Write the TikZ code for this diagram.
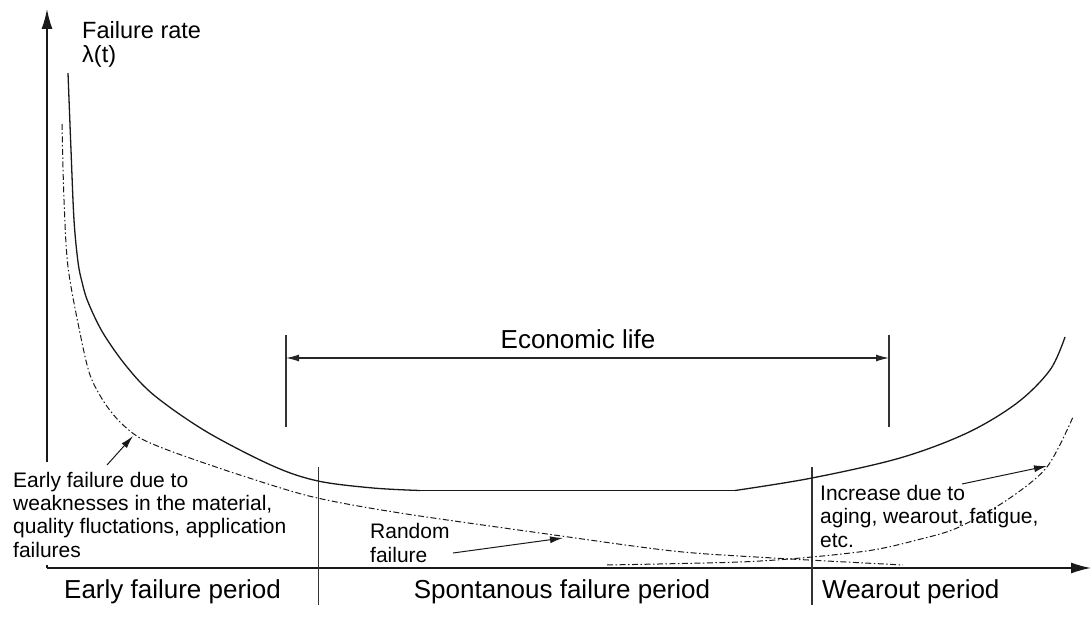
\documentclass[tikz,border=0pt]{standalone}
\usepackage{fontspec}
\setmainfont{Liberation Sans}
\usetikzlibrary{arrows.meta}
\begin{document}
\begin{tikzpicture}[x=1bp,y=-1bp,
  curve/.style={line width=1.3bp, black!90},
  dashdot/.style={line width=1bp, black!90, dash pattern=on 6bp off 2.5bp on 1.5bp off 2.5bp},
  axis/.style={line width=1.4bp, black!90, -{Latex[length=20bp,width=11bp]}},
  tickline/.style={line width=1.2bp, black!80},
  dimline/.style={line width=1.1bp, black!85, {Latex[length=13bp,width=7bp]}-{Latex[length=13bp,width=7bp]}},
  ptr/.style={line width=1bp, black!90, -{Latex[length=13bp,width=7bp]}},
  smalltxt/.style={font=\fontsize{21bp}{23.3bp}\selectfont, align=left, anchor=base west, inner sep=0pt},
  bigtxt/.style={font=\fontsize{26bp}{30bp}\selectfont, anchor=base west, inner sep=0pt},
  ytxt/.style={font=\fontsize{23.5bp}{24.5bp}\selectfont, align=left, anchor=base west, inner sep=0pt}
]
\useasboundingbox (0,0) rectangle (1092,621);
% axes
\coordinate (ybot) at (47,462);
\coordinate (ytop) at (47,9);
\coordinate (orig) at (47,568);
\coordinate (corner) at (47,565);
\coordinate (xend) at (1091,568);
\draw[axis] (ybot) -- (ytop);
\draw[line width=1.4bp, black!90] (corner) -- (orig);
\draw[axis] (orig) -- (xend);
% period dividers
\coordinate (d1t) at (318.5,467); \coordinate (d1b) at (318.5,605);
\coordinate (d2t) at (812,467); \coordinate (d2b) at (812,605);
\draw[tickline] (d1t) -- (d1b);
\draw[tickline] (d2t) -- (d2b);
% economic life
\coordinate (e1t) at (286,335); \coordinate (e1b) at (286,427);
\coordinate (e2t) at (889,335); \coordinate (e2b) at (889,427);
\coordinate (e1m) at (286,358); \coordinate (e2m) at (889,358);
\draw[tickline] (e1t) -- (e1b);
\draw[tickline] (e2t) -- (e2b);
\draw[dimline] (e1m) -- (e2m);
\node[bigtxt, anchor=base] (econ) at (578,348) {Economic life};
% bathtub curve
\draw[curve] plot[smooth, tension=0.55] coordinates {(68,73) (71,150) (74,220) (78,262) (82,282) (88,302) (103,333) (127,367) (155,396) (207,432) (273,466) (318,481) (373,488) (420,490.5)};
\coordinate (f1) at (420,490.5); \coordinate (f2) at (735,490.5);
\draw[curve] (f1) -- (f2);
\draw[curve] plot[smooth, tension=0.55] coordinates {(735,490.5) (812,478) (900,458) (967,433) (1017,403) (1050,370) (1065,337)};
% early failure curve
\draw[dashdot] plot[smooth, tension=0.5] coordinates {(62,124) (64,200) (68,267) (80,333) (90,375) (104,402) (120,422) (140,438) (173,452) (240,475) (313,497) (400,513) (540,533) (673,551) (773,558) (903,565)};
% wearout curve
\draw[dashdot] plot[smooth, tension=0.5] coordinates {(607,565) (740,562) (812,557) (873,550) (917,540) (957,528) (1007,500) (1047,467) (1073,417)};
% labels
\node[ytxt] (ylab) at (82,63) {Failure rate\\λ(t)};
\node[smalltxt] (early) at (13,557) {Early failure due to\\weaknesses in the material,\\quality fluctations, application\\failures};
\node[smalltxt] (random) at (370,562) {Random\\failure};
\node[smalltxt] (incr) at (820,547) {Increase due to\\aging, wearout, fatigue,\\etc.};
\coordinate (pe1) at (107,465); \coordinate (pe2) at (133,436);
\coordinate (pr1) at (453,553); \coordinate (pr2) at (563,538);
\coordinate (pw1) at (962,484); \coordinate (pw2) at (1047,466);
\draw[ptr] (pe1) -- (pe2);
\draw[ptr] (pr1) -- (pr2);
\draw[ptr] (pw1) -- (pw2);
\node[bigtxt] (p1) at (64,598) {Early failure period};
\node[bigtxt, anchor=base] (p2) at (562,598) {Spontanous failure period};
\node[bigtxt] (p3) at (822,598) {Wearout period};
\end{tikzpicture}
\end{document}
